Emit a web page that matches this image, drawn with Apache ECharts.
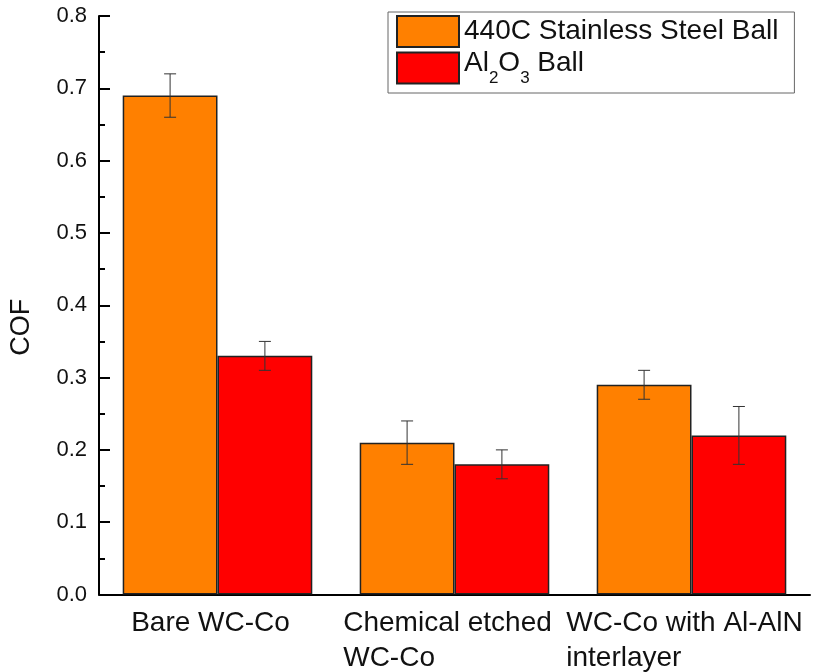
<!DOCTYPE html>
<html lang="en">
<head>
    <meta charset="UTF-8">
    <title>COF</title>
    <script src="https://cdn.jsdelivr.net/npm/echarts@6/dist/echarts.min.js"></script>
    <style>
        html, body { margin: 0; padding: 0; background: #fff; }
    </style>
</head>
<body>
    <div id="main" style="width:822px;height:672px;"></div>
<script>
    // data
    var categories = ['Bare WC-Co', 'Chemical etched\nWC-Co', 'WC-Co with Al-AlN\ninterlayer'];
    var steelCof = [0.69, 0.21, 0.29];
    var steelErr = [0.03, 0.03, 0.02];
    var aluminaCof = [0.33, 0.18, 0.22];
    var aluminaErr = [0.02, 0.02, 0.04];
    var yTicks = [0, 0.1, 0.2, 0.3, 0.4, 0.5, 0.6, 0.7, 0.8];

    var chart = echarts.init(document.getElementById('main'));
    var font = 'Liberation Sans, Arial, sans-serif';

    function errData(vals, errs) {
        return vals.map(function (v, i) { return [i, v, errs[i]]; });
    }

    // draw one error bar, shifted onto its bar (bars are 40% of the band each)
    function errRender(shift) {
        return function (params, api) {
            var idx = api.value(0), v = api.value(1), e = api.value(2);
            var band = api.size([1, 0])[0];
            var top = api.coord([idx, v + e]);
            var bot = api.coord([idx, v - e]);
            var x = top[0] + shift * band;
            var cap = 6;
            var st = { stroke: '#333', lineWidth: 1 };
            return {
                type: 'group',
                children: [
                    { type: 'line', shape: { x1: x, y1: top[1], x2: x, y2: bot[1] }, style: st },
                    { type: 'line', shape: { x1: x - cap, y1: top[1], x2: x + cap, y2: top[1] }, style: st },
                    { type: 'line', shape: { x1: x - cap, y1: bot[1], x2: x + cap, y2: bot[1] }, style: st }
                ]
            };
        };
    }

    chart.setOption({
        backgroundColor: '#fff',
        animation: false,
        textStyle: { fontFamily: font },
        grid: { left: 97, right: 12, top: 16, bottom: 75 },
        legend: {
            left: 388,
            top: 12,
            orient: 'vertical',
            data: ['440C Stainless Steel Ball', 'Al2O3 Ball'],
            itemWidth: 62,
            itemHeight: 31,
            itemGap: 1,
            padding: [3, 16, 6, 8],
            borderColor: '#666',
            borderWidth: 1,
            icon: 'rect',
            formatter: function (name) {
                if (name === 'Al2O3 Ball') {
                    return '{t|Al}{s|2}{t|O}{s|3}{t| Ball}';
                }
                return name;
            },
            textStyle: {
                fontFamily: font,
                fontSize: 28,
                color: '#111',
                rich: {
                    t: { fontSize: 28, lineHeight: 28, padding: [0, 0, 10, 0], color: '#111', fontFamily: font },
                    s: { fontSize: 17, lineHeight: 17, padding: [21, 0, 0, 0], color: '#111', fontFamily: font }
                }
            }
        },
        xAxis: {
            type: 'category',
            data: categories,
            axisLine: { lineStyle: { color: '#000', width: 2 } },
            axisTick: { show: false },
            axisLabel: {
                margin: 11,
                padding: [0, 14, 0, 0],
                formatter: function (val) {
                    return val.split('\n').map(function (s) { return '{a|' + s + '}'; }).join('\n');
                },
                rich: {
                    a: { align: 'left', fontSize: 28, lineHeight: 35, color: '#111', fontFamily: font }
                }
            }
        },
        yAxis: {
            type: 'value',
            min: 0,
            max: 0.8,
            interval: 0.1,
            name: 'COF',
            nameLocation: 'middle',
            nameGap: 64,
            nameTextStyle: { fontSize: 27, color: '#111', fontFamily: font, padding: [0, 44, 0, 0] },
            axisLine: { show: true, lineStyle: { color: '#000', width: 2 } },
            axisTick: { show: true, inside: true, length: 11, lineStyle: { color: '#000', width: 2 } },
            minorTick: { show: true, splitNumber: 2, length: 6, lineStyle: { color: '#000', width: 2 } },
            splitLine: { show: false },
            axisLabel: {
                fontSize: 22,
                color: '#111',
                margin: 12,
                formatter: function (v) {
                    var t = yTicks.reduce(function (a, b) { return Math.abs(b - v) < Math.abs(a - v) ? b : a; });
                    return t.toFixed(1);
                }
            }
        },
        series: [
            {
                name: '440C Stainless Steel Ball',
                type: 'bar',
                data: steelCof,
                barWidth: '40%',
                barGap: '0%',
                itemStyle: { color: '#FF8000', borderColor: '#222', borderWidth: 1.5 }
            },
            {
                name: 'Al2O3 Ball',
                type: 'bar',
                data: aluminaCof,
                barWidth: '40%',
                barGap: '0%',
                itemStyle: { color: '#FF0000', borderColor: '#222', borderWidth: 1.5 }
            },
            {
                type: 'custom',
                renderItem: errRender(-0.2),
                data: errData(steelCof, steelErr),
                z: 10,
                silent: true
            },
            {
                type: 'custom',
                renderItem: errRender(0.2),
                data: errData(aluminaCof, aluminaErr),
                z: 10,
                silent: true
            }
        ]
    });
</script>
</body>
</html>
